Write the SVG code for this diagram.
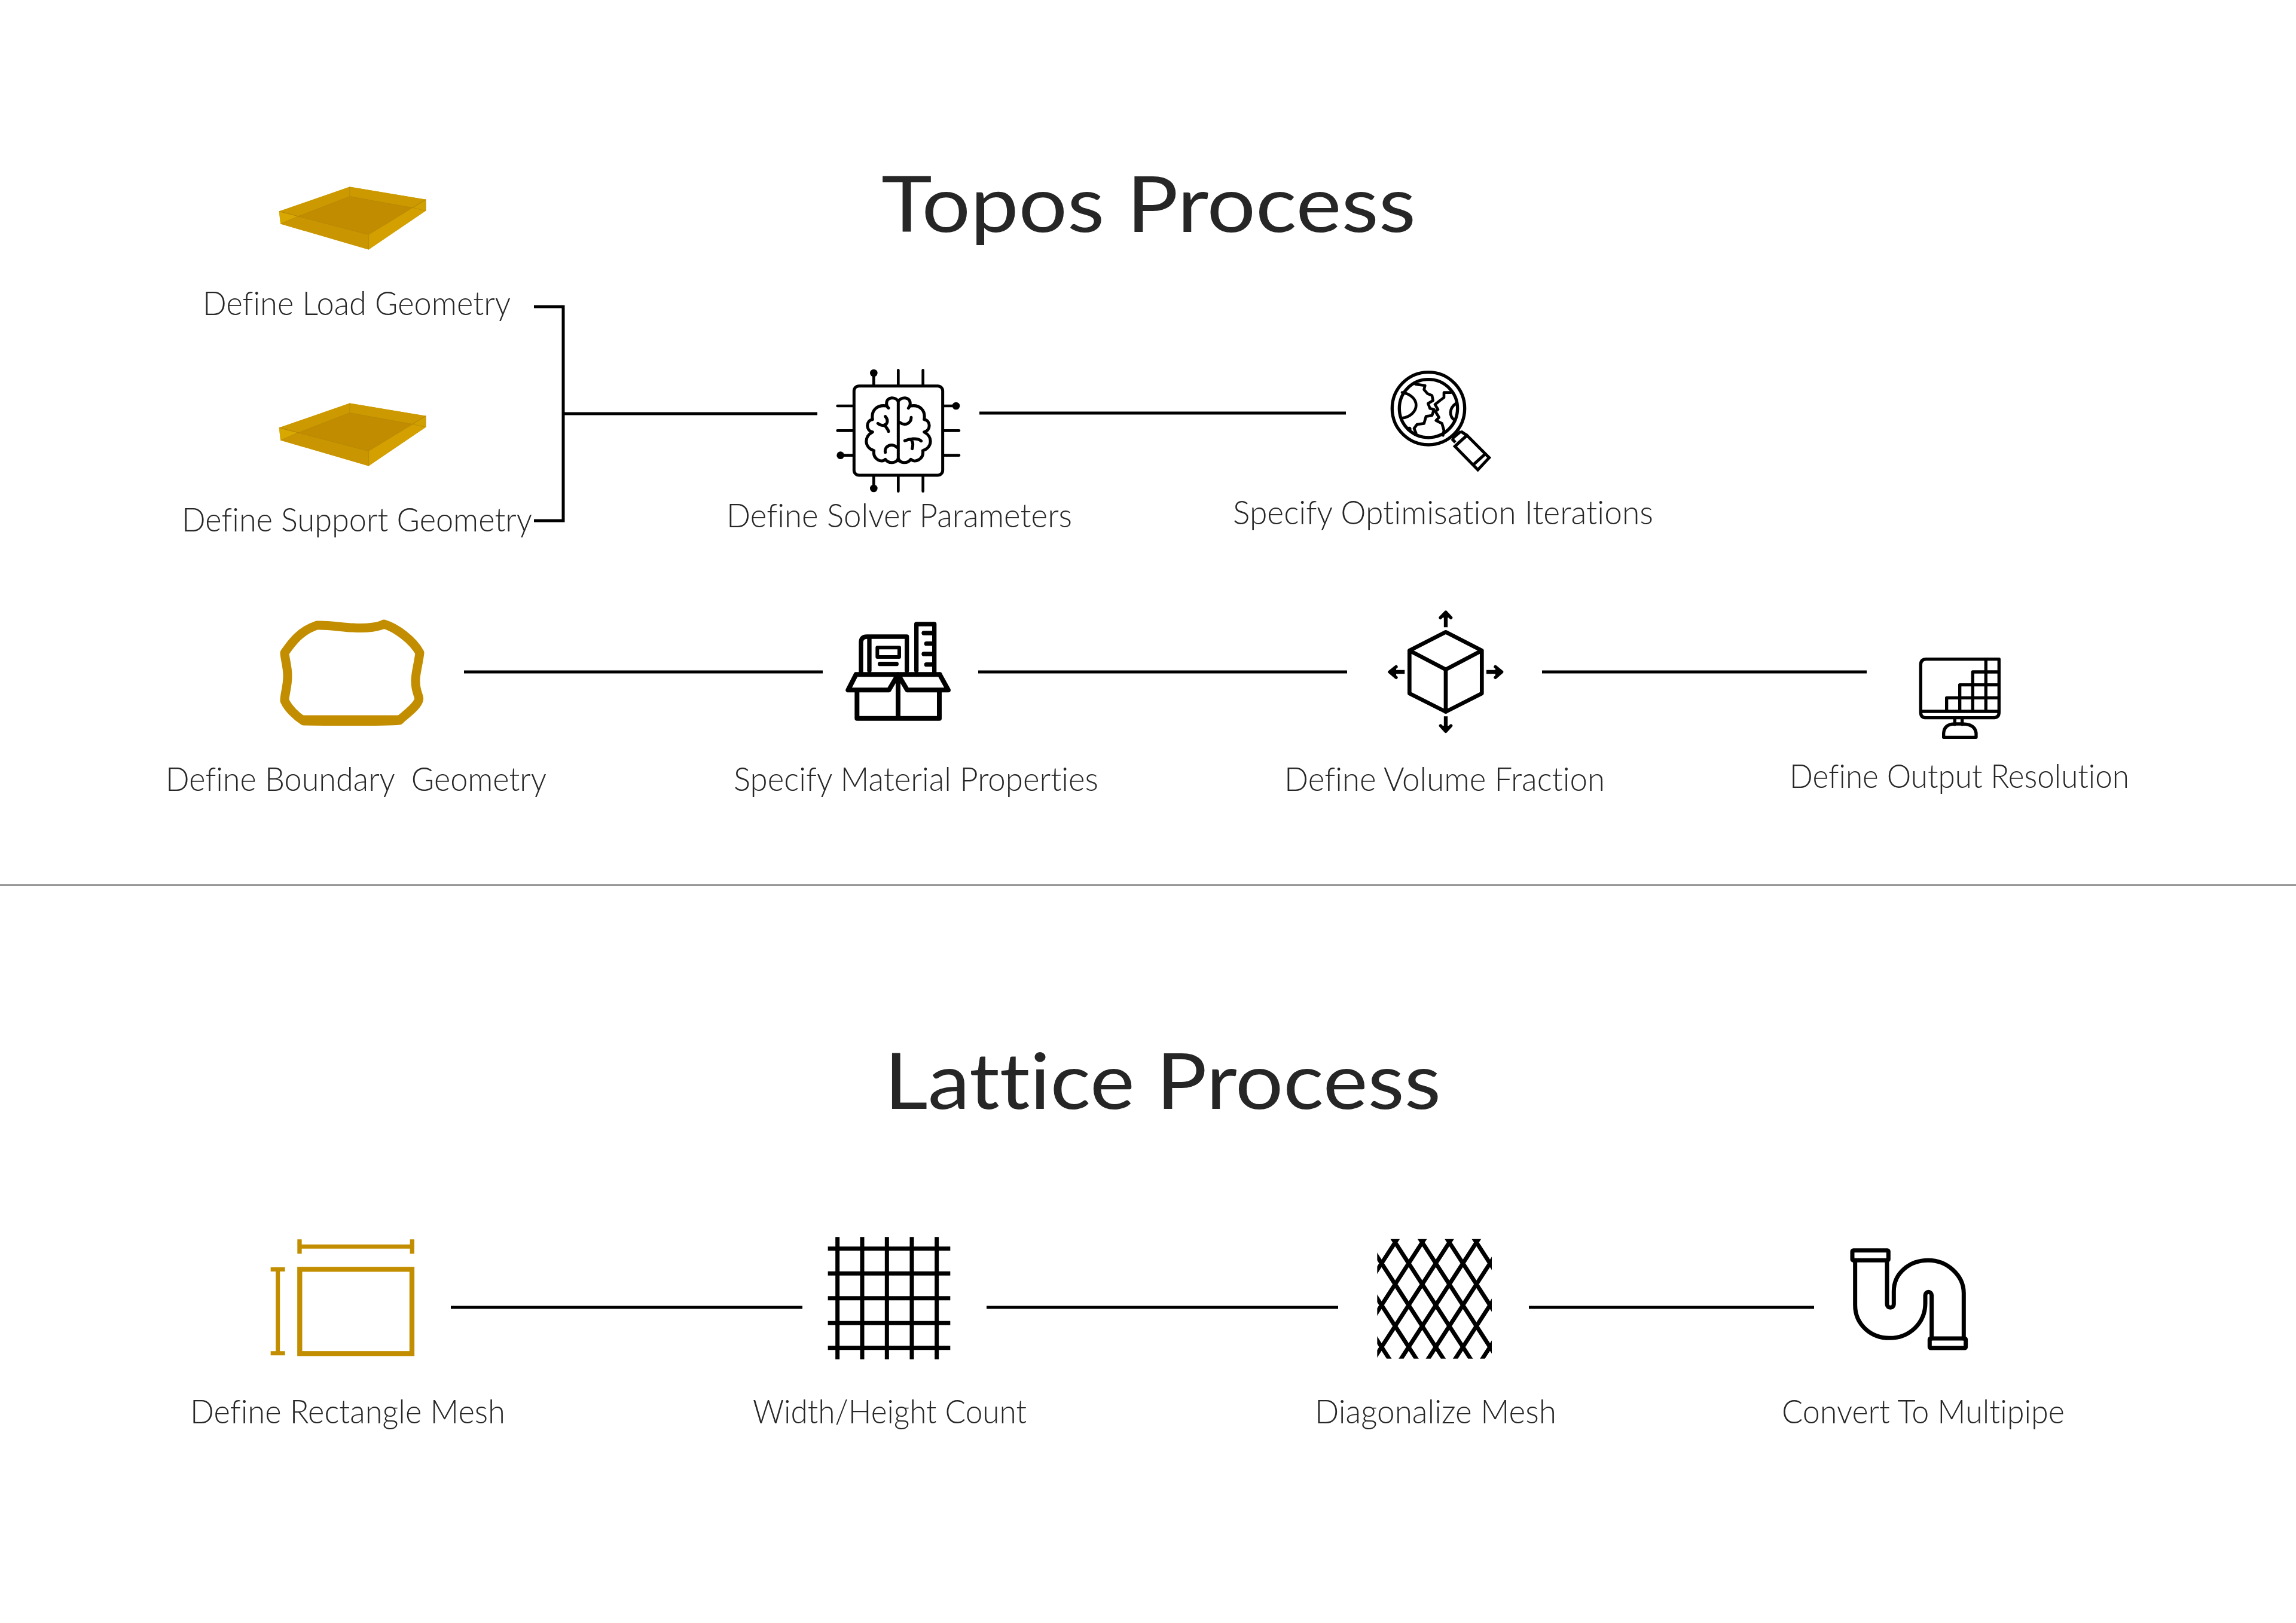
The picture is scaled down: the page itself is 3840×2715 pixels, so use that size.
<svg xmlns="http://www.w3.org/2000/svg" width="3840" height="2715" viewBox="0 0 3840 2715">
<style>
text{font-family:"Lato","Liberation Sans",sans-serif;fill:#262626;font-variant-ligatures:none}
.t{font-size:130px;font-weight:400}
.l{font-size:55px;font-weight:300}
.c{fill:none;stroke:#000;stroke-width:5}
.k{fill:none;stroke:#000;stroke-linecap:round;stroke-linejoin:round}
.kb{fill:none;stroke:#000;stroke-linecap:butt;stroke-linejoin:miter}
.g{fill:none;stroke:#c28e00}
.f{fill:#c28e00}
</style>
<defs>
<g id="plate">
<polygon points="453,222 700,125 966,175 966,220 766,374 458,272" fill="#d0a000"/>
<polygon points="700,163 920,208 766,315 520,242" fill="#c28c00"/>
<polygon points="520,242 766,315 766,374 458,272" fill="#c99500"/>
<polygon points="453,222 520,242 458,272" fill="#d9a800"/>
<polygon points="766,315 920,208 966,220 766,374" fill="#d4a000"/>
<polygon points="700,125 966,175 920,208 700,163 520,242 453,222" fill="#cc9a00"/>
<path d="M700 125V163M700 163L920 208L966 175M700 163L520 242L453 222L766 315L966 175V220M766 315V374M458 272L520 242M920 208L966 220" fill="none" stroke="#a87f08" stroke-width="2" opacity=".6"/>
</g>
</defs>
<rect width="3840" height="2715" fill="#fff"/>

<g id="titles">
<text class="t" x="1474" y="388" textLength="894" lengthAdjust="spacingAndGlyphs">Topos Process</text>
<text class="t" x="1479" y="1855" textLength="931" lengthAdjust="spacingAndGlyphs">Lattice Process</text>
</g>

<g id="connectors">
<path class="c" d="M893 513H942V871H893M942 692H1367"/>
<path class="c" d="M1638 691H2251M776 1124H1376M1636 1124H2253M2579 1124H3122M754 2187H1342M1650 2187H2238M2557 2187H3034"/>
<path d="M0 1480.500H3840" fill="none" stroke="#555" stroke-width="2"/>
</g>

<g id="load-geometry">
<use href="#plate" transform="translate(250 260) scale(.4785 .4209)"/>
<text class="l" x="339" y="527" textLength="515" lengthAdjust="spacingAndGlyphs">Define Load Geometry</text>
</g>
<g id="support-geometry">
<use href="#plate" transform="translate(250 622) scale(.4785 .4209)"/>
<text class="l" x="304" y="889" textLength="586" lengthAdjust="spacingAndGlyphs">Define Support Geometry</text>
</g>

<g id="solver">
<g transform="translate(1360 580) scale(.3333)">
<rect x="205" y="197" width="445" height="448" rx="25" class="k" stroke-width="15"/>
<path class="k" stroke-width="14" d="M304 130V190M427 118V190M551 118V190M304 652V710M427 652V725M551 652V725M122 297H198M122 421H198M137 545H198M658 297H717M658 421H732M658 545H732"/>
<circle cx="304" cy="132" r="19"/><circle cx="304" cy="711" r="19"/><circle cx="137" cy="545" r="19"/><circle cx="717" cy="297" r="19"/>
<path class="k" stroke-width="15" d="M427 270V572M427 275C415 250 368 250 368 285C368 295 372 303 378 308M368 297C320 290 290 320 298 365C265 370 262 420 298 428C255 450 255 505 305 522C298 565 345 585 362 565C380 590 420 585 427 560M427 275C440 250 487 250 487 285C487 295 483 303 478 308M490 297C535 290 565 320 557 365C590 370 592 420 557 428C600 450 600 505 550 522C557 565 510 585 490 565C470 590 435 585 427 560M362 350C380 370 372 392 352 395C340 395 330 390 325 385M358 392C365 405 375 412 378 425M362 530C355 500 395 480 420 505M435 380C465 402 492 380 492 355M460 472C490 458 525 460 542 473M492 468C505 480 500 500 497 512"/>
</g>
<text class="l" x="1215" y="882" textLength="578" lengthAdjust="spacingAndGlyphs">Define Solver Parameters</text>
</g>

<g id="iterations">
<g transform="translate(2280 600) scale(.3333)">
<circle cx="327" cy="250" r="182" class="k" stroke-width="16"/>
<circle cx="327" cy="250" r="146" class="k" stroke-width="16"/>
<path class="kb" stroke-width="15" d="M445 402L462 420M490 365L520 385M460 440L520 385L632 497L575 558ZM475 425L525 382M555 530L610 480M445 402L490 365"/>
<path class="k" stroke-width="14" d="M195 170A85 65 0 0 1 195 298M262 128L310 135L305 155L322 175L345 185L350 210L325 225L335 250L355 255L345 285L315 290L305 325L270 330L255 350L265 375M440 170L405 170L405 195L385 210L360 230L375 255L362 265L380 295L365 310L395 325L405 360L400 385M465 225C430 250 430 290 460 310"/>
<circle cx="230" cy="353" r="12"/>
</g>
<text class="l" x="2062" y="877" textLength="703" lengthAdjust="spacingAndGlyphs">Specify Optimisation Iterations</text>
</g>

<g id="boundary">
<path class="g" stroke-width="15" stroke-linejoin="round" d="M530 1046C550 1045 575 1050 590 1050C615 1052 635 1048 642 1044C662 1050 690 1070 702 1092C700 1110 694 1130 695 1140C695 1160 703 1165 700 1172C695 1185 672 1200 668 1205C660 1208 520 1206 508 1206C495 1198 482 1185 476 1172C476 1160 481 1150 481 1130C481 1115 476 1100 476 1092C486 1078 500 1056 530 1046Z"/>
<path class="g" stroke-width="13" d="M505 1203H675"/>
<text class="l" x="277" y="1323" textLength="637" lengthAdjust="spacingAndGlyphs" xml:space="preserve">Define Boundary  Geometry</text>
</g>

<g id="material">
<g transform="translate(1380 1020) scale(.3333)">
<path class="k" stroke-width="22" d="M180 315V165Q180 135 210 135H410V305M458 305V72H548V320M222 145V305M495 117H540M508 170H540M495 222H540M508 275H540M275 272H358"/>
<rect x="262" y="190" width="110" height="47" class="k" stroke-width="18"/>
<path class="k" stroke-width="24" d="M160 410V545H573V410M366 325V545M155 325H575M155 325L115 403H320L366 325L412 403H618L575 325"/>
</g>
<text class="l" x="1227" y="1323" textLength="610" lengthAdjust="spacingAndGlyphs">Specify Material Properties</text>
</g>

<g id="volume">
<g transform="translate(2300 1010) scale(.3333)">
<path class="k" stroke-width="20" d="M354 142L535 235V450L354 542L172 450V235ZM172 235L354 330L535 235M354 330V542"/>
<path class="kb" stroke-width="19" d="M354 118V60M354 565V620M148 342H85M558 342H625"/>
<path class="k" stroke-width="16" fill="#000" d="M327 70L354 42L380 70M328 612L354 640L380 612M105 316L72 342L105 370M603 316L635 342L603 370" style="fill:#000"/>
</g>
<text class="l" x="2148" y="1323" textLength="536" lengthAdjust="spacingAndGlyphs">Define Volume Fraction</text>
</g>

<g id="resolution">
<g transform="translate(3180 1080) scale(.3333)">
<path class="k" stroke-width="16" d="M125 68H490V335Q490 362 460 362H125Q97 362 97 335V96Q97 68 125 68ZM97 330H490M424 68V330M358 132V330M293 197V330M227 262V330M358 132H490M293 197H490M227 262H490M268 365V395M305 365V395M212 460V440Q215 395 265 393H310Q370 395 375 440V460Z"/>
</g>
<text class="l" x="2993" y="1318" textLength="568" lengthAdjust="spacingAndGlyphs">Define Output Resolution</text>
</g>

<g id="rectangle-mesh">
<g transform="translate(430 2050) scale(.3333)">
<rect x="214" y="220" width="563" height="423" class="g" stroke-width="25"/>
<path class="g" stroke-width="21" d="M222 106H770M104 225V640"/>
<path class="f" d="M202 70h22v72h-22zM767 70h22v72h-22zM68 210h72v21h-72zM68 631h72v21h-72z"/>
</g>
<text class="l" x="318" y="2381" textLength="527" lengthAdjust="spacingAndGlyphs">Define Rectangle Mesh</text>
</g>

<g id="count">
<g transform="translate(1360 2050) scale(.3333)">
<path class="kb" stroke-width="21" d="M122 58V672M246 58V672M370 58V672M495 58V672M620 58V672M74 116H688M74 241H688M74 365H688M74 490H688M74 614H688"/>
</g>
<text class="l" x="1259" y="2381" textLength="458" lengthAdjust="spacingAndGlyphs">Width/Height Count</text>
</g>

<g id="diagonalize">
<clipPath id="dclip"><rect x="70" y="68" width="575" height="600"/></clipPath>
<g transform="translate(2280 2050) scale(.3333)" clip-path="url(#dclip)">
<path class="kb" stroke-width="21" d="M-270.700 50L150.300 700M-134.700 50L286.300 700M1.300 50L422.300 700M137.300 50L558.300 700M273.300 50L694.300 700M409.300 50L830.300 700M545.300 50L966.300 700M182.700 50L-238.300 700M318.700 50L-102.300 700M454.700 50L33.700 700M590.700 50L169.700 700M726.700 50L305.700 700M862.700 50L441.700 700M998.700 50L577.700 700"/>
</g>
<text class="l" x="2199" y="2381" textLength="404" lengthAdjust="spacingAndGlyphs">Diagonalize Mesh</text>
</g>

<g id="multipipe">
<g transform="translate(3070 2070) scale(.3333)">
<rect x="84" y="65" width="181" height="50" rx="5" class="k" stroke-width="21"/>
<rect x="472" y="507" width="181" height="48" rx="5" class="k" stroke-width="21"/>
<path class="k" stroke-width="21" d="M258 115V335A17 17 0 0 0 292 335V270C292 180 370 115 465 115C560 115 643 190 643 280V507M482 507V290A16 16 0 0 0 450 290V330C450 430 370 505 270 505C180 505 98 440 98 340V115"/>
</g>
<text class="l" x="2980" y="2381" textLength="473" lengthAdjust="spacingAndGlyphs">Convert To Multipipe</text>
</g>
</svg>
